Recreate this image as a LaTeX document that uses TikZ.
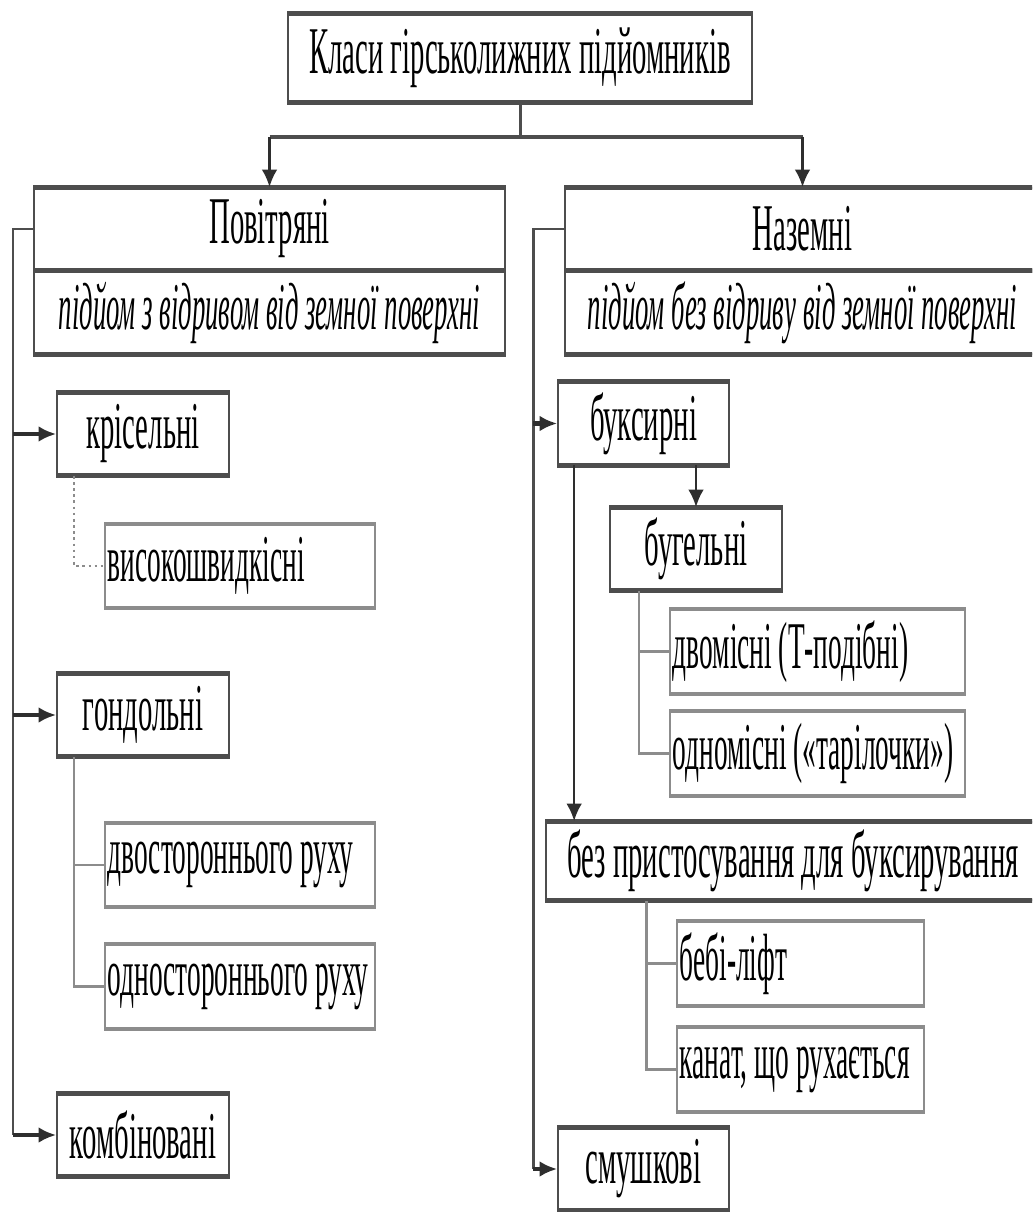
\documentclass[tikz,border=0pt]{standalone}
\usepackage{fontspec}
\setmainfont{Liberation Serif}[FakeStretch=0.43]
\newfontfamily\subtitlefont{Liberation Serif}[FakeStretch=0.40]
\newfontfamily\itemfont{Liberation Serif}[FakeStretch=0.41]
\usetikzlibrary{positioning,calc,arrows.meta}
\definecolor{bardark}{HTML}{4D4D4D}
\definecolor{barlight}{HTML}{8C8C8C}
\definecolor{linkdark}{HTML}{2E2E2E}

\begin{document}
\begin{tikzpicture}[x=0.02cm,y=-0.02cm]
\tikzstyle{main}=[rectangle, draw=bardark, line width=1pt, fill=white, inner sep=0pt, minimum height=1.64cm, font=\fontsize{38}{40}\selectfont]
\tikzstyle{sub}=[rectangle, draw=barlight, line width=1pt, fill=white, inner xsep=0.06cm, inner ysep=0pt, minimum height=1.66cm, font=\fontsize{38}{40}\itemfont]
\tikzstyle{note}=[font=\fontsize{38}{40}\subtitlefont\itshape]
\tikzstyle{connect}=[-{Latex[length=10pt,width=9pt]}, line width=2.6pt, draw=linkdark]
\tikzstyle{trunk}=[line width=1.7pt, draw=bardark]
\tikzstyle{branch}=[line width=1.5pt, draw=barlight]
\tikzstyle{mainbar}=[line width=2.8pt, draw=bardark]
\tikzstyle{subbar}=[line width=2.4pt, draw=barlight]
  \useasboundingbox (0,0) rectangle (1032,1212);
  \clip (0,0) rectangle (1032,1212);
  % top level
  \node[main, minimum width=9.28cm, minimum height=1.76cm] (title) at (520,58) {Класи гірськолижних підйомників};
  \node[main, minimum width=9.42cm] (pov) at (269.5,229) {Повітряні};
  \node[main, note, minimum width=9.42cm, below=0pt of pov] (povsub) {підйом з відривом від земної поверхні};
  \node[main, minimum width=9.5cm] (naz) at (802.5,229) {Наземні};
  \node[main, note, minimum width=9.5cm, below=0pt of naz] (nazsub) {підйом без відриву від земної поверхні};
  % left column
  \node[main, minimum width=3.44cm] (kris) at (143,434) {крісельні};
  \node[sub, anchor=west] (vys) at (104,566) {\makebox[5.28cm][l]{високошвидкісні}};
  \node[main, minimum width=3.44cm] (gond) at (143,715) {гондольні};
  \node[sub, anchor=west] (dvost) at (104,865) {\makebox[5.28cm][l]{двостороннього руху}};
  \node[sub, anchor=west] (odnost) at (104,986.5) {\makebox[5.28cm][l]{одностороннього руху}};
  \node[main, minimum width=3.44cm] (komb) at (143,1135) {комбіновані};
  % right column
  \node[main, minimum width=3.42cm] (buks) at (643.5,423.5) {буксирні};
  \node[main, minimum width=3.44cm] (bug) at (696,549) {бугельні};
  \node[sub, anchor=west] (dvom) at (669,651.5) {\makebox[5.78cm][l]{двомісні (Т-подібні)}};
  \node[sub, anchor=west] (odnom) at (669,753.5) {\makebox[5.78cm][l]{одномісні («тарілочки»)}};
  \node[main, minimum width=9.88cm, minimum height=1.56cm] (bez) at (793,861) {без пристосування для буксирування};
  \node[sub, anchor=west] (bebi) at (676,963.5) {\makebox[4.82cm][l]{бебі-ліфт}};
  \node[sub, anchor=west] (kanat) at (676,1069.5) {\makebox[4.82cm][l]{канат, що рухається}};
  \node[main, minimum width=3.42cm] (smush) at (643.5,1169) {смушкові};
  % thick top and bottom edges
  \foreach \n in {title,pov,povsub,naz,nazsub,kris,gond,komb,buks,bug,bez,smush}
    \draw[mainbar] (\n.north west) -- (\n.north east) (\n.south west) -- (\n.south east);
  \foreach \n in {vys,dvost,odnost,dvom,odnom,bebi,kanat}
    \draw[subbar] (\n.north west) -- (\n.north east) (\n.south west) -- (\n.south east);
  % title to the two classes
  \coordinate (split) at (520,137);
  \draw[trunk] (title.south) -- (split);
  \draw[mainbar] (pov.north |- split) -- (naz.north |- split);
  \path (pov.north |- split) edge [connect, line width=1.5pt] (pov.north)
        (naz.north |- split) edge [connect, line width=1.5pt] (naz.north);
  % left trunk
  \coordinate (lt) at (13,229);
  \draw[trunk] (pov.west) -- (lt) -- (lt |- komb.west);
  \path (lt |- kris.west) edge [connect] (kris.west)
        (lt |- gond.west) edge [connect] (gond.west)
        (lt |- komb.west) edge [connect] (komb.west);
  % right trunk
  \coordinate (rt) at (533,229);
  \draw[trunk] (naz.west) -- (rt) -- (rt |- smush.west);
  \path (rt |- buks.west) edge [connect] (buks.west)
        (rt |- smush.west) edge [connect] (smush.west);
  \coordinate (bk) at ($(buks.south west)+(17,0)$);
  \path (bug.north |- buks.south) edge [connect, line width=1.5pt] (bug.north)
        (bk) edge [connect, line width=1.5pt] (bk |- bez.north);
  % sub-branches
  \coordinate (kb) at ($(kris.south west)+(18,0)$);
  \draw[branch, dotted] (kb) |- (vys.west);
  \coordinate (gb) at ($(gond.south west)+(18,0)$);
  \draw[branch] (gb) |- (dvost.west) (gb) |- (odnost.west);
  \coordinate (ub) at ($(bug.south west)+(30,0)$);
  \draw[branch] (ub) |- (dvom.west) (ub) |- (odnom.west);
  \coordinate (zb) at ($(bez.south west)+(101,0)$);
  \draw[branch] (zb) |- (bebi.west) (zb) |- (kanat.west);
\end{tikzpicture}
\end{document}
